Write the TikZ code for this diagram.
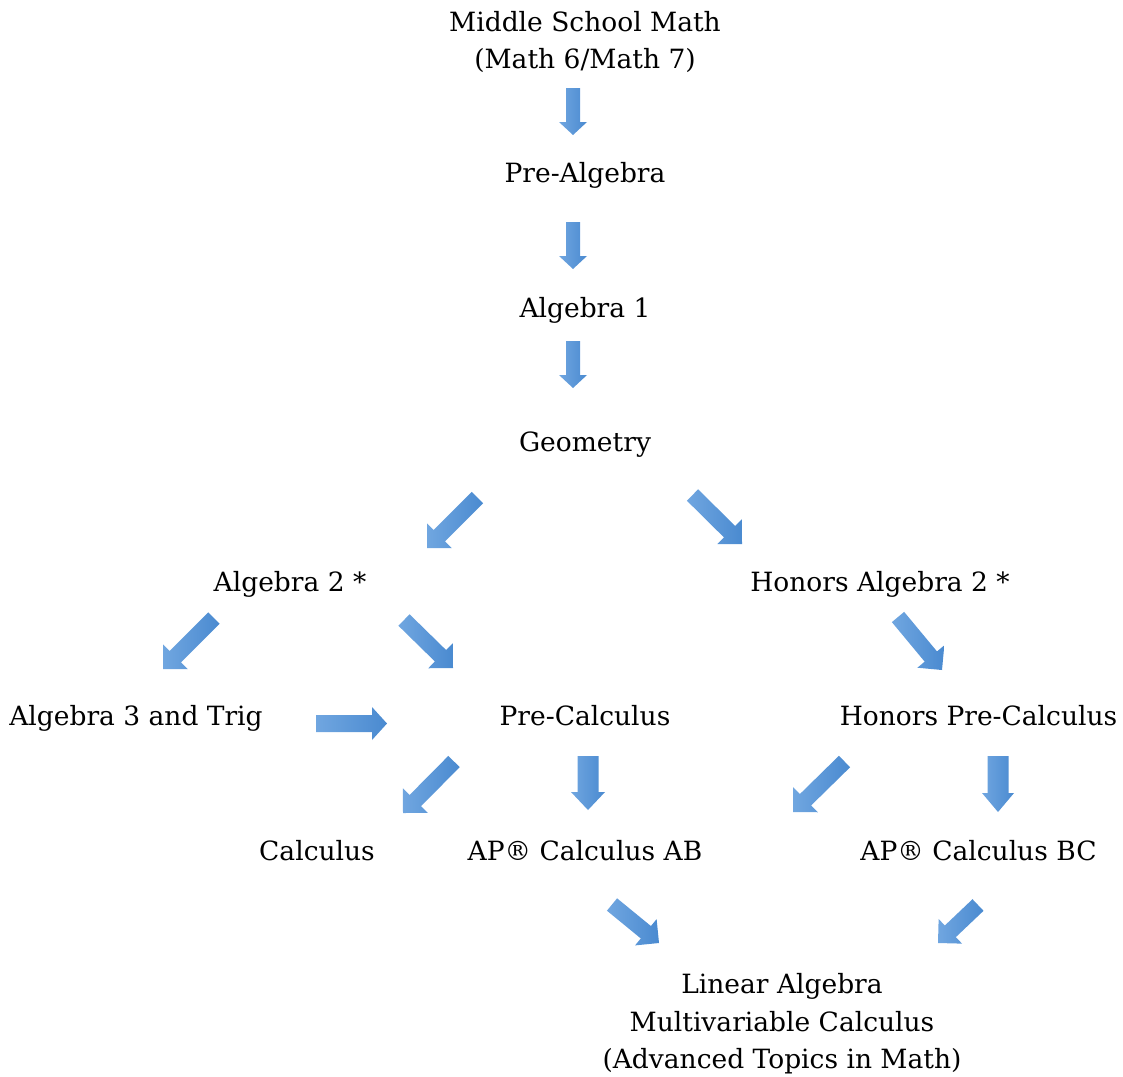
\documentclass[tikz,border=0pt]{standalone}
\usepackage{fontspec}
\setmainfont{DejaVu Serif}
\usetikzlibrary{calc}
\definecolor{arrowlight}{RGB}{112,166,224}
\definecolor{arrowdark}{RGB}{74,138,208}
\tikzset{
  lbl/.style={font=\fontsize{26.5}{37.5}\selectfont, inner sep=0pt, anchor=base, text=black},
  mlbl/.style={font=\fontsize{26.5}{37.5}\selectfont, inner sep=0pt, align=center, text=black},
  barrow/.style={left color=arrowlight, right color=arrowdark}
}
\newcommand\blockarrow[6]{%
  \coordinate (#1t) at #2;
  \coordinate (#1h) at #3;
  \coordinate (#1b) at ($(#1h)!#6pt!(#1t)$);
  \shade[barrow] ($(#1t)!#4pt!90:(#1h)$) -- ($(#1b)!#4pt!90:(#1h)$) -- ($(#1b)!#5pt!90:(#1h)$) -- (#1h) -- ($(#1b)!#5pt!-90:(#1h)$) -- ($(#1b)!#4pt!-90:(#1h)$) -- ($(#1t)!#4pt!-90:(#1h)$) -- cycle;
}
\begin{document}
\begin{tikzpicture}[x=1pt,y=-1pt]
\useasboundingbox (0,0) rectangle (1123,1076);
% labels
\node[mlbl] (ms) at (585,42) {Middle School Math\\(Math 6/Math 7)};
\node[lbl] (pa) at (585,182) {Pre-Algebra};
\node[lbl] (a1) at (585,317) {Algebra 1};
\node[lbl] (geo) at (585,451) {Geometry};
\node[lbl] (alg2) at (290,591) {Algebra 2 *};
\node[lbl] (halg2) at (880,591) {Honors Algebra 2 *};
\node[lbl] (alg3) at (136,725) {Algebra 3 and Trig};
\node[lbl] (pc) at (585,725) {Pre-Calculus};
\node[lbl] (hpc) at (978.5,725) {Honors Pre-Calculus};
\node[lbl] (calc) at (317,860) {Calculus};
\node[lbl] (ab) at (585,860) {AP® Calculus AB};
\node[lbl] (bc) at (978.5,860) {AP® Calculus BC};
\node[mlbl] (lin) at (782,1024) {Linear Algebra\\Multivariable Calculus\\(Advanced Topics in Math)};
% block arrows
\blockarrow{ar1}{(573,88)}{(573,135)}{7}{14}{13}
\blockarrow{ar2}{(573,222)}{(573,269)}{7}{14}{13}
\blockarrow{ar3}{(573,341)}{(573,388)}{7}{14}{13}
\blockarrow{ar4}{(477.5,497.5)}{(427,548)}{8}{17.5}{17.5}
\blockarrow{ar5}{(692.5,495)}{(742,544)}{8}{17.5}{17.5}
\blockarrow{ar6}{(214,618)}{(163,669)}{8}{17.5}{17.5}
\blockarrow{ar7}{(404,620)}{(453,668)}{8}{17.5}{17.5}
\blockarrow{ar8}{(898,617)}{(942,670)}{8}{17.5}{17.5}
\blockarrow{ar9}{(316,723.5)}{(387,723.5)}{8.5}{16.5}{15}
\blockarrow{ar10}{(454,761.5)}{(403,813)}{8}{17.5}{17.5}
\blockarrow{ar11}{(588,756)}{(588,810)}{10.5}{17}{18}
\blockarrow{ar12}{(844.5,761.5)}{(793,812)}{8}{17.5}{17.5}
\blockarrow{ar13}{(998,756)}{(998,812)}{10.5}{16}{19}
\blockarrow{ar14}{(612,904.5)}{(659,943)}{8}{17}{17}
\blockarrow{ar15}{(978,905)}{(938,943)}{8}{17}{17}
\end{tikzpicture}
\end{document}
